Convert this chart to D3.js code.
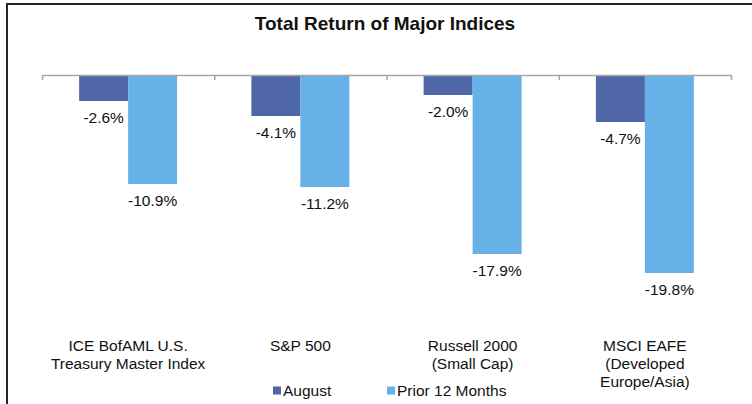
<!DOCTYPE html>
<html>
<head>
<meta charset="utf-8">
<script src="https://cdn.jsdelivr.net/npm/d3@7"></script>
<style>
  body { margin: 0; background: #fff; }
  text { font-family: "Liberation Sans", Arial, sans-serif; fill: #111; }
</style>
</head>
<body>
<div id="chart"></div>
<script>
// Data
var categories = [
    "ICE BofAML U.S.\nTreasury Master Index",
    "S&P 500",
    "Russell 2000\n(Small Cap)",
    "MSCI EAFE\n(Developed\nEurope/Asia)"
];
var seriesNames = ["August", "Prior 12 Months"];
var august = [-2.6, -4.1, -2.0, -4.7];
var prior12 = [-10.9, -11.2, -17.9, -19.8];
var colors = ["#4f67a7", "#66b2e8"];

var width = 752, height = 404;
var plot = {left: 42, right: 731, top: 75, bottom: 325};

var svg = d3.select("#chart")
    .append("svg")
    .attr("width", width)
    .attr("height", height);

// Frame (cut off at right and bottom like the original)
svg.append("rect")
    .attr("x", 7)
    .attr("y", 4)
    .attr("width", 800)
    .attr("height", 500)
    .attr("fill", "none")
    .attr("stroke", "#262626")
    .attr("stroke-width", 2);

// Title
svg.append("text")
    .attr("x", 385)
    .attr("y", 30)
    .attr("text-anchor", "middle")
    .style("font-size", "19px")
    .style("font-weight", "bold")
    .text("Total Return of Major Indices");

// Scales
var x0 = d3.scaleBand().domain(d3.range(categories.length)).range([plot.left, plot.right]);
var x1 = d3.scaleBand().domain(seriesNames).range([0, x0.bandwidth()]).paddingInner(0).paddingOuter(0.758);
var y = d3.scaleLinear().domain([-25, 0]).range([plot.bottom, plot.top]);

var fmt = function(v) { return d3.format(".1f")(v).replace("\u2212", "-") + "%"; };

var rows = categories.map(function(c, i) {
    return {i: i, values: [august[i], prior12[i]]};
});

// Bars
var groups = svg.selectAll(".grp")
    .data(rows)
    .enter().append("g")
    .attr("class", "grp")
    .attr("transform", function(d) { return "translate(" + x0(d.i) + ",0)"; });

groups.selectAll("rect")
    .data(function(d) { return d.values.map(function(v, k) { return {k: k, v: v}; }); })
    .enter().append("rect")
    .attr("x", function(d) { return x1(seriesNames[d.k]); })
    .attr("y", y(0))
    .attr("width", x1.bandwidth())
    .attr("height", function(d) { return y(d.v) - y(0); })
    .attr("fill", function(d) { return colors[d.k]; });

// Value labels
groups.selectAll(".val")
    .data(function(d) { return d.values.map(function(v, k) { return {k: k, v: v}; }); })
    .enter().append("text")
    .attr("class", "val")
    .attr("x", function(d) { return x1(seriesNames[d.k]) + x1.bandwidth() / 2; })
    .attr("y", function(d) { return y(d.v) + 21.5; })
    .attr("text-anchor", "middle")
    .style("font-size", "15.5px")
    .text(function(d) { return fmt(d.v); });

// Category axis at zero
var xEdge = d3.scaleLinear().domain([0, categories.length]).range([plot.left, plot.right]);
var axis = svg.append("g")
    .attr("transform", "translate(0," + y(0) + ")")
    .call(d3.axisBottom(xEdge).tickValues(d3.range(categories.length + 1)).tickSize(5).tickSizeOuter(0).tickFormat(""));
axis.select(".domain").attr("stroke", "#a6a6a6").attr("stroke-width", 1.5);
axis.selectAll(".tick line").attr("stroke", "#a6a6a6").attr("stroke-width", 1.5);

// Category labels
svg.selectAll(".cat")
    .data(categories)
    .enter().append("text")
    .attr("class", "cat")
    .attr("text-anchor", "middle")
    .attr("y", 350.5)
    .style("font-size", "15.5px")
    .each(function(d, i) {
        var t = d3.select(this);
        d.split("\n").forEach(function(line, j) {
            t.append("tspan")
                .attr("x", x0(i) + x0.bandwidth() / 2)
                .attr("dy", j === 0 ? 0 : 18)
                .text(line);
        });
    });

// Legend
var legendX = [273, 387];
var legend = svg.selectAll(".leg")
    .data(seriesNames)
    .enter().append("g")
    .attr("class", "leg")
    .attr("transform", function(d, i) { return "translate(" + legendX[i] + ",386.5)"; });
legend.append("rect")
    .attr("width", 8)
    .attr("height", 8)
    .attr("fill", function(d, i) { return colors[i]; });
legend.append("text")
    .attr("x", 10)
    .attr("y", 9.5)
    .style("font-size", "15.5px")
    .text(function(d) { return d; });
</script>
</body>
</html>
